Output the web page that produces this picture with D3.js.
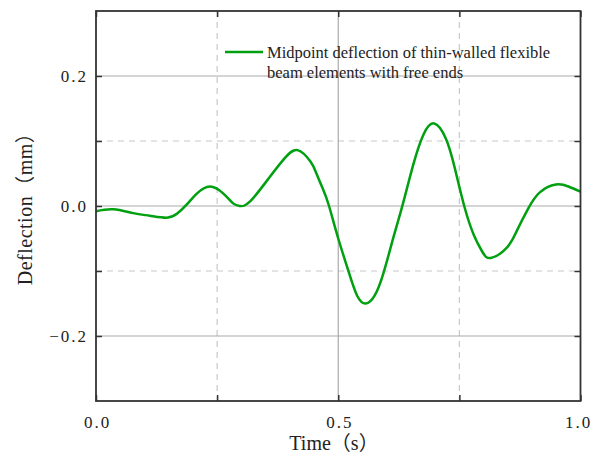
<!DOCTYPE html>
<html>
<head>
<meta charset="utf-8">
<script src="https://cdn.jsdelivr.net/npm/d3@7"></script>
<style>
  body { margin: 0; background: #fff; }
  text { font-family: "Liberation Serif", "Noto Sans CJK SC", serif; fill: #222; }
</style>
</head>
<body>
<svg id="chart" width="594" height="455"></svg>
<script>
// 데이터
var times = [0, 0.036, 0.077, 0.111, 0.146, 0.167, 0.187, 0.208, 0.235, 0.263, 0.283, 0.297,
  0.318, 0.359, 0.39, 0.416, 0.443, 0.455, 0.469, 0.481, 0.5, 0.521, 0.539, 0.557,
  0.575, 0.593, 0.614, 0.633, 0.655, 0.676, 0.698, 0.722, 0.740, 0.760, 0.780, 0.797, 0.815,
  0.848, 0.868, 0.892, 0.916, 0.949, 0.975, 1.0];
var deflection = [-0.008, -0.005, -0.011, -0.015, -0.018, -0.012, 0.002, 0.019, 0.030, 0.019, 0.004, 0.0,
  0.007, 0.045, 0.074, 0.086, 0.068, 0.050, 0.025, 0.0, -0.050, -0.100, -0.138, -0.150,
  -0.138, -0.104, -0.048, 0.002, 0.064, 0.110, 0.127, 0.104, 0.060, 0.0, -0.045, -0.070, -0.080,
  -0.064, -0.039, -0.004, 0.021, 0.033, 0.030, 0.022];
var xTicks = [0, 0.5, 1.0];
var xMinor = [0.25, 0.75];
var yTicks = [-0.2, 0, 0.2];
var yMinor = [-0.1, 0.1];
var legendLines = ["Midpoint deflection of thin-walled flexible", "beam elements with free ends"];

const svg = d3.select("#chart");
const pLeft = 96, pRight = 580.5, pTop = 11, pBottom = 401;

const x = d3.scaleLinear().domain([0, 1]).range([pLeft, pRight]);
const y = d3.scaleLinear().domain([-0.3, 0.3]).range([pBottom, pTop]);

// 격자선
svg.selectAll(".gx").data(xMinor).enter().append("line")
  .attr("x1", d => x(d)).attr("x2", d => x(d))
  .attr("y1", pTop).attr("y2", pBottom)
  .attr("stroke", "#c8c8c8").attr("stroke-width", 1.2).attr("stroke-dasharray", "6,5");
svg.selectAll(".gy").data(yMinor).enter().append("line")
  .attr("x1", pLeft).attr("x2", pRight)
  .attr("y1", d => y(d)).attr("y2", d => y(d))
  .attr("stroke", "#c8c8c8").attr("stroke-width", 1.2).attr("stroke-dasharray", "6,5");
svg.selectAll(".gxm").data(xTicks.slice(1, -1)).enter().append("line")
  .attr("x1", d => x(d)).attr("x2", d => x(d))
  .attr("y1", pTop).attr("y2", pBottom)
  .attr("stroke", "#aaa").attr("stroke-width", 1.2);
svg.selectAll(".gym").data(yTicks).enter().append("line")
  .attr("x1", pLeft).attr("x2", pRight)
  .attr("y1", d => y(d)).attr("y2", d => y(d))
  .attr("stroke", "#aaa").attr("stroke-width", 1.2);

// 데이터 선
const line = d3.line()
  .x((d, i) => x(times[i]))
  .y(d => y(d))
  .curve(d3.curveNatural);
svg.append("path")
  .attr("d", line(deflection))
  .attr("fill", "none")
  .attr("stroke", "#00a010")
  .attr("stroke-width", 2.5);

// 틱 (안쪽)
const tickLen = 6;
const allX = xTicks.concat(xMinor);
const allY = yTicks.concat(yMinor);
svg.append("g").attr("transform", "translate(0," + pBottom + ")")
  .call(d3.axisBottom(x).tickValues(allX).tickSize(-tickLen).tickFormat(""))
  .call(g => g.select(".domain").remove());
svg.append("g").attr("transform", "translate(0," + pTop + ")")
  .call(d3.axisTop(x).tickValues(allX).tickSize(-tickLen).tickFormat(""))
  .call(g => g.select(".domain").remove());
svg.append("g").attr("transform", "translate(" + pLeft + ",0)")
  .call(d3.axisLeft(y).tickValues(allY).tickSize(-tickLen).tickFormat(""))
  .call(g => g.select(".domain").remove());
svg.append("g").attr("transform", "translate(" + pRight + ",0)")
  .call(d3.axisRight(y).tickValues(allY).tickSize(-tickLen).tickFormat(""))
  .call(g => g.select(".domain").remove());
svg.selectAll(".tick line").attr("stroke", "#333").attr("stroke-width", 1.5);

// 테두리
svg.append("rect")
  .attr("x", pLeft).attr("y", pTop)
  .attr("width", pRight - pLeft).attr("height", pBottom - pTop)
  .attr("fill", "none").attr("stroke", "#333").attr("stroke-width", 1.8);

// 눈금 라벨
svg.selectAll(".xl").data(xTicks).enter().append("text")
  .text(d => d.toFixed(1))
  .attr("x", d => Math.min(x(d) + 1.5, 578.5))
  .attr("y", 428)
  .attr("text-anchor", "middle")
  .attr("font-size", "17px")
  .attr("letter-spacing", "2px")
  .attr("fill", "#444");
svg.selectAll(".yl").data(yTicks).enter().append("text")
  .text(d => (d < 0 ? "\u2212" : "") + Math.abs(d).toFixed(1))
  .attr("x", 88)
  .attr("y", d => y(d) + 6)
  .attr("text-anchor", "end")
  .attr("font-size", "17px")
  .attr("letter-spacing", "2px")
  .attr("fill", "#444");

// 축 제목
svg.append("text")
  .text("Time（s）")
  .attr("x", 334).attr("y", 450)
  .attr("text-anchor", "middle")
  .attr("font-size", "20px");
svg.append("text")
  .text("Deflection（mm）")
  .attr("transform", "translate(32,204) rotate(-90)")
  .attr("text-anchor", "middle")
  .attr("font-size", "20px")
  .attr("letter-spacing", "0.5px");

// 범례
svg.append("line")
  .attr("x1", 225).attr("x2", 263)
  .attr("y1", 52).attr("y2", 52)
  .attr("stroke", "#00a010").attr("stroke-width", 2.5);
svg.selectAll(".lg").data(legendLines).enter().append("text")
  .text(d => d)
  .attr("x", 267)
  .attr("y", (d, i) => 57.5 + i * 20)
  .attr("font-size", "16.5px");
</script>
</body>
</html>
